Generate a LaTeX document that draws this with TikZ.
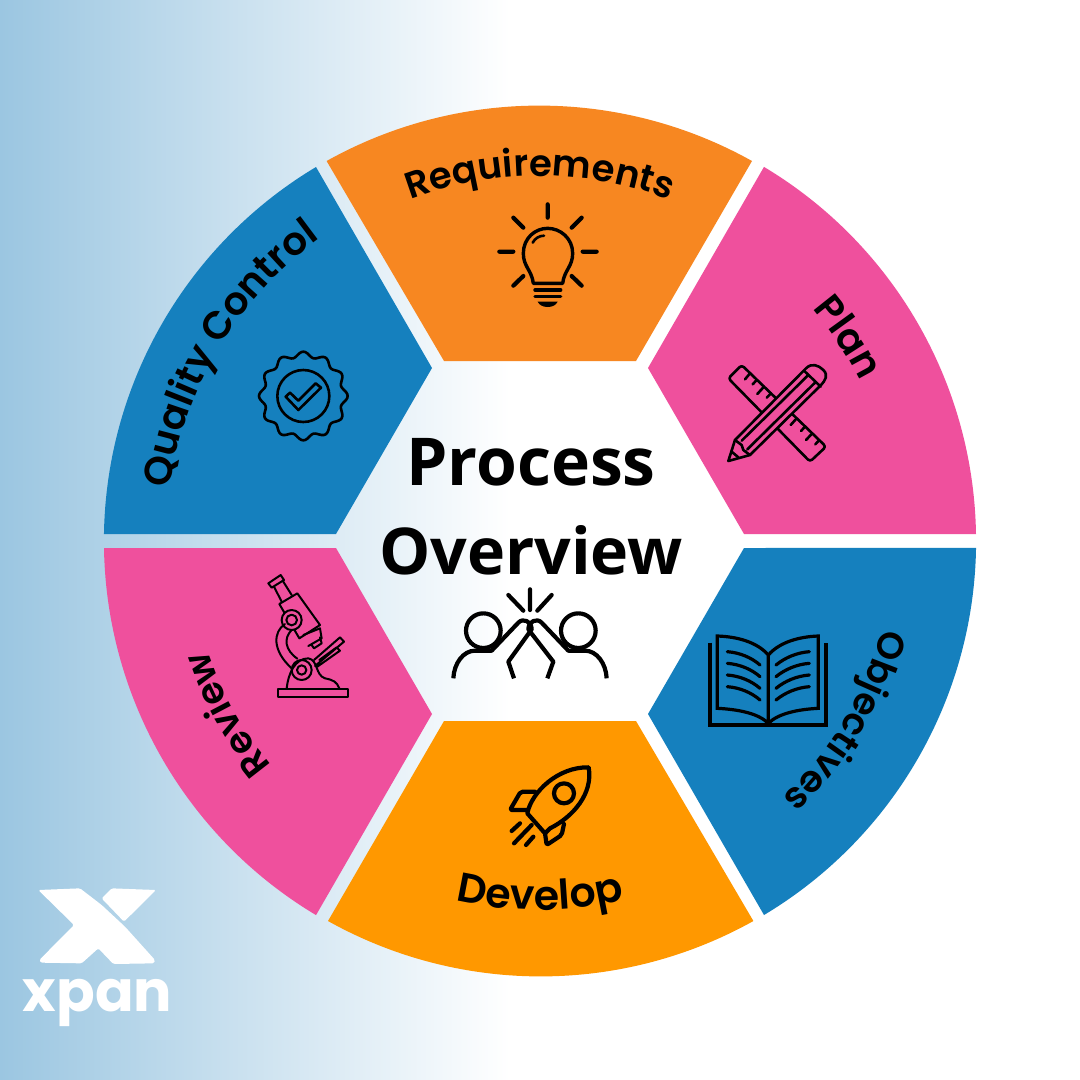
\documentclass[tikz,border=0pt]{standalone}
\usepackage{fontspec}
\usetikzlibrary{decorations.text,calc}
\newfontfamily\lblfam[BoldFont={Open Sans Bold}]{Open Sans}
\newfontfamily\arcfam[BoldFont={Poppins SemiBold}]{Poppins}
\newfontfamily\logofam{Poppins}
\newcommand{\arcA}{\arcfam\bfseries\fontsize{37}{37}\selectfont}
\newcommand{\arcB}{\arcfam\bfseries\fontsize{39}{39}\selectfont}
\newcommand{\arcC}{\arcfam\bfseries\fontsize{41}{41}\selectfont}
\definecolor{bgblue}{RGB}{155,198,225}
\definecolor{segorange}{RGB}{247,135,33}
\definecolor{segamber}{RGB}{255,152,0}
\definecolor{segpink}{RGB}{239,80,157}
\definecolor{segblue}{RGB}{21,128,190}
\tikzset{
  icon/.style={draw=black,line width=2.6pt,line cap=round,line join=round},
  iconthick/.style={draw=black,line width=4.2pt,line cap=round,line join=round},
  iconthin/.style={draw=black,line width=2pt,line cap=round,line join=round},
  z/.style={shift={#1},scale=1/3}
}
\begin{document}
\begin{tikzpicture}[x=1pt,y=-1pt]
\useasboundingbox (0,0) rectangle (1080,1080);
\fill[white] (0,0) rectangle (1080,1080);
\shade[left color=bgblue,right color=white] (0,0) rectangle (510,1080);
\coordinate (C) at (540,541);
% segments
\fill[segorange] (444,361)--(636,361)--(752,161) arc[start angle=-60.8,end angle=-119.2,radius=436]--cycle;
\fill[segpink] (648,368)--(744,534)--(976,534) arc[start angle=-0.92,end angle=-59.1,radius=436]--cycle;
\fill[segblue] (744,548)--(648,714)--(764,915) arc[start angle=59.1,end angle=0.92,radius=436]--cycle;
\fill[segamber] (636,721)--(444,721)--(328,921) arc[start angle=119.2,end angle=60.8,radius=436]--cycle;
\fill[segpink] (432,714)--(336,548)--(104,548) arc[start angle=179.08,end angle=120.9,radius=436]--cycle;
\fill[segblue] (336,534)--(432,368)--(316,167) arc[start angle=239.1,end angle=180.92,radius=436]--cycle;
% title
\node[font=\lblfam\bfseries\fontsize{66}{66}\selectfont] (t1) at (531,462) {Process};
\node[font=\lblfam\bfseries\fontsize{64.5}{64.5}\selectfont] (t2) at (531,550) {Overview};
% arc labels
\path[decorate,decoration={text along path,text align=center,text={|\arcA|Requirements}}] ([shift={(-120:365)}]C) arc[start angle=-120,end angle=-60,radius=365];
\path[decorate,decoration={text along path,text align=center,text={|\arcB|Plan}}] ([shift={(-63.5:358)}]C) arc[start angle=-63.5,end angle=-3.5,radius=358];
\path[decorate,decoration={text along path,text align=center,text={|\arcA|Objectives}}] ([shift={(0.5:353)}]C) arc[start angle=0.5,end angle=60.5,radius=353];
\path[decorate,decoration={text along path,text align=center,text={|\arcC|Develop}}] ([shift={(120:369)}]C) arc[start angle=120,end angle=60,radius=369];
\path[decorate,decoration={text along path,text align=center,text={|\arcA|Review}}] ([shift={(121:350)}]C) arc[start angle=121,end angle=181,radius=350];
\path[decorate,decoration={text along path,text align=center,text={|\arcB|Quality Control}}] ([shift={(175:374)}]C) arc[start angle=175,end angle=247,radius=374];
% bulb
\begin{scope}[z={(490,195)}]
\draw[iconthick] (173,28)--(173,68) (70,68)--(100,98) (275,68)--(245,98) (28,170)--(70,170) (278,170)--(320,170) (70,272)--(100,243) (275,272)--(245,243);
\draw[icon,line width=3.4pt] (130,265) .. controls (125,225) and (100,215) .. (100,175) .. controls (100,130) and (135,100) .. (173,100) .. controls (211,100) and (248,130) .. (248,175) .. controls (248,215) and (223,225) .. (218,265) -- cycle;
\draw[icon] (128,143) .. controls (135,130) and (148,122) .. (162,122);
\draw[icon,line width=3.4pt] (135,285)--(212,285) (135,305)--(212,305);
\fill[black] (143,320)--(203,320) .. controls (198,330) and (188,336) .. (173,336) .. controls (158,336) and (148,330) .. (143,320) -- cycle;
\end{scope}
% pencil and ruler
\begin{scope}[z={(700,350)}]
\draw[icon,rounded corners=3pt] (85,85)--(125,45)--(378,290)--(330,335)--cycle;
\draw[icon] (150,70)--(135,88) (170,90)--(158,103) (192,110)--(172,132) (213,130)--(200,143)
  (290,205)--(272,225) (315,230)--(303,243) (337,250)--(318,270) (358,270)--(346,283);
\fill[segpink] (85,333)--(105,270)--(318,60)--(340,45)--(378,70)--(355,110)--(150,315)--cycle;
\draw[icon] (85,333)--(105,270)--(318,55) .. controls (335,38) and (355,45) .. (370,60) .. controls (385,75) and (378,90) .. (360,108)--(150,315)--cycle;
\draw[icon] (105,270)--(125,285)--(130,300)--(150,315) (125,272)--(325,75) (142,298)--(345,98) (312,62)--(362,110) (95,305)--(115,322);
\end{scope}
% book
\begin{scope}[z={(700,620)}]
\draw[icon,line width=3.2pt,line cap=butt,line join=miter] (30,68)--(30,315)--(378,315)--(378,68);
\draw[icon,line width=3.2pt,line join=miter] (205,310)--(205,105) .. controls (170,65) and (110,50) .. (52,48)--(52,265) .. controls (115,268) and (175,280) .. (205,310);
\draw[icon,line width=3.2pt,line join=miter] (205,105) .. controls (240,65) and (300,50) .. (355,48)--(355,265) .. controls (295,268) and (235,280) .. (205,310);
\foreach \yy in {95,130,165,200}{
\draw[icon,line width=3.2pt] (82,\yy) .. controls (120,\yy+3) and (155,\yy+18) .. (180,\yy+40);
\draw[icon,line width=3.2pt] (328,\yy) .. controls (290,\yy+3) and (255,\yy+18) .. (228,\yy+40);
}
\end{scope}
% rocket
\begin{scope}[z={(490,750)}]
\draw[iconthick] (112,190) .. controls (125,125) and (205,50) .. (296,52) .. controls (310,130) and (250,200) .. (180,235) -- (165,250) -- cycle;
\draw[iconthick,rounded corners=2pt] (135,125)--(92,125)--(60,180)--(112,180);
\draw[iconthick,rounded corners=2pt] (222,222)--(215,255)--(170,285)--(165,250);
\draw[iconthick] (222,130) circle[radius=30];
\draw[iconthick] (65,243)--(90,220) (72,280)--(125,225) (108,285)--(130,260);
\end{scope}
% microscope
\begin{scope}[z={(240,560)}]
\draw[iconthin] (85,70)--(122,45)--(132,60)--(95,83)--cycle;
\draw[iconthin] (102,80)--(125,125) (128,62)--(155,105);
\draw[iconthin] (118,132)--(172,100)--(240,195)--(178,235)--cycle;
\draw[iconthin] (190,225)--(240,205)--(245,235)--(205,258) (215,255)--(222,265)--(245,250)--(240,232);
\fill[segpink] (155,180) circle[radius=30];
\draw[iconthin] (155,180) circle[radius=30] (155,180) circle[radius=16];
\draw[iconthin] (135,192) .. controls (100,215) and (95,270) .. (155,325) (155,210) .. controls (130,235) and (135,270) .. (172,296);
\draw[iconthin] (222,300)--(300,232)--(312,245)--(225,318) (238,300)--(290,262)--(300,272)--(232,320);
\draw[iconthin] (113,388) rectangle (325,410);
\draw[iconthin] (140,385) .. controls (145,340) and (165,295) .. (205,295) .. controls (235,300) and (225,345) .. (255,355) .. controls (280,360) and (290,365) .. (298,385);
\draw[iconthin] (185,330) circle[radius=30] (185,330) circle[radius=14];
\end{scope}
% badge
\begin{scope}[z={(245,340)}]
\draw[icon] plot[domain=0:360,samples=145,smooth,variable=\t] ({175+(125+8*cos(12*(\t-90)))*cos(\t)},{168+(125+8*cos(12*(\t-90)))*sin(\t)}) -- cycle;
\draw[icon] (175,168) circle[radius=78];
\draw[icon] (122,170)--(135,158)--(160,182)--(212,130)--(228,143)--(160,210)--cycle;
\end{scope}
% high five
\begin{scope}[z={(440,580)}]
\draw[iconthick] (205,45)--(250,92) (270,28)--(270,90) (335,45)--(292,92);
\draw[iconthick] (130,152) circle[radius=52] (415,152) circle[radius=52];
\draw[iconthick,line cap=butt] (40,295) .. controls (42,250) and (70,212) .. (105,212)--(155,212)--(235,128) .. controls (250,112) and (275,125) .. (275,148)--(205,245)--(222,295);
\draw[iconthick,line cap=butt] (500,295) .. controls (498,250) and (470,212) .. (435,212)--(385,212)--(305,128) .. controls (290,112) and (265,125) .. (265,148)--(340,245)--(322,295);
\end{scope}
% logo
\begin{scope}[z={(30,880)}]
\fill[white,rounded corners=1.5pt] (25,30)--(150,25)--(215,75)--(285,140)--(375,240)--(372,250)--(250,252)--(205,205)--(155,250)--(32,248)--(28,240)--(132,135)--cycle;
\fill[white,rounded corners=1.5pt] (215,55)--(245,25)--(378,30)--(282,125)--cycle;
\end{scope}
\node[font=\logofam\bfseries\fontsize{57}{57}\selectfont,text=white,inner sep=0pt] (logo) at (97.5,1003) {xpan};
\end{tikzpicture}
\end{document}
